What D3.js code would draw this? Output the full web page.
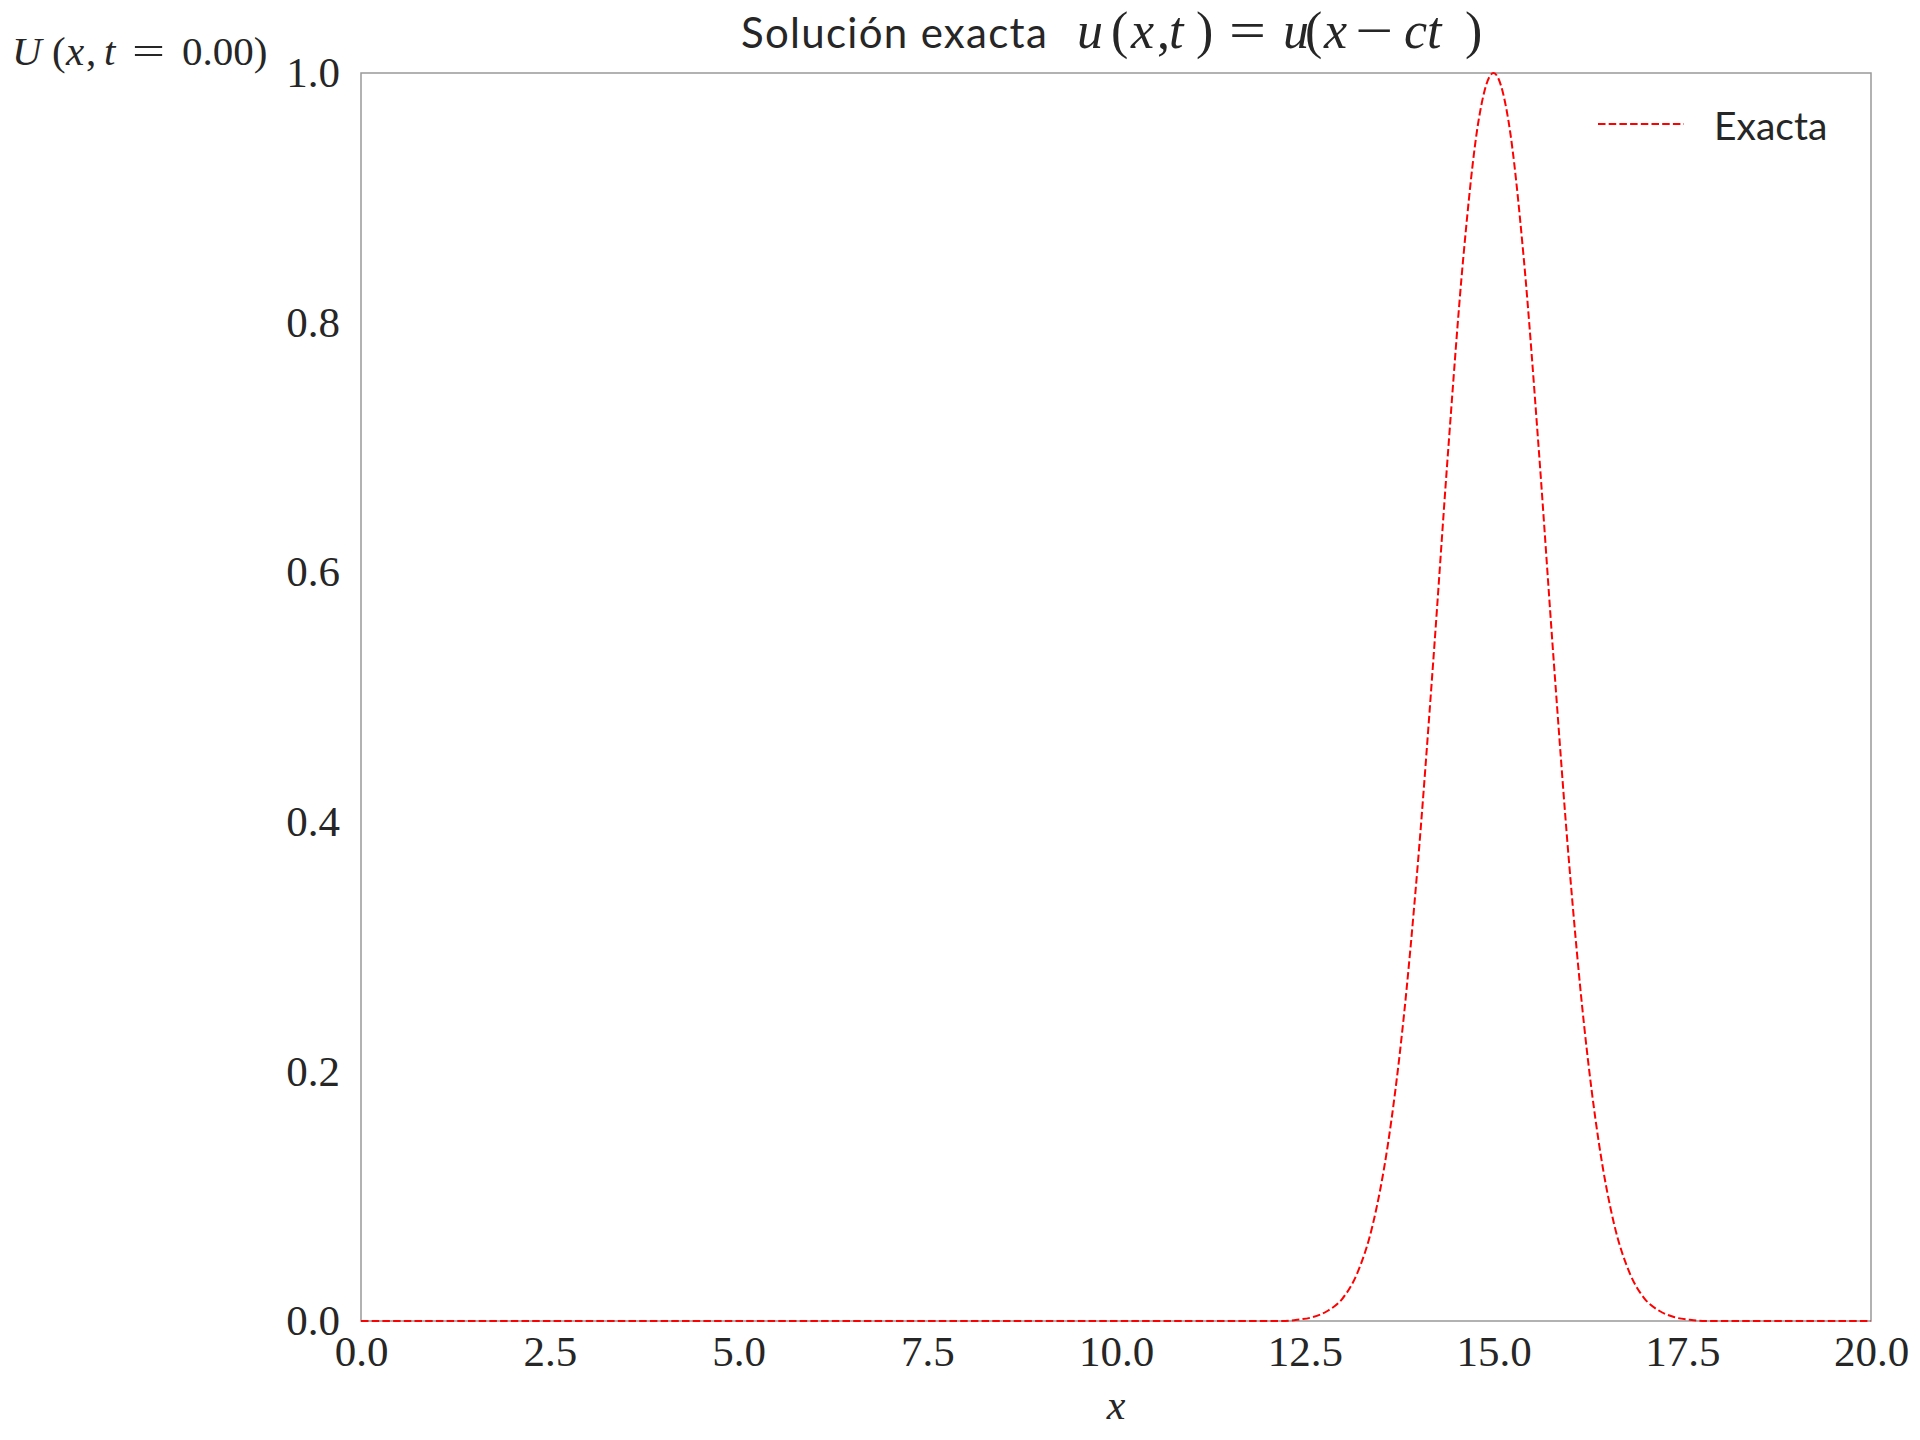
<!DOCTYPE html>
<html><head><meta charset="utf-8">
<script src="https://cdn.jsdelivr.net/npm/d3@7"></script>
<style>body{margin:0;background:#fff}</style>
</head><body>
<script>
// Data
const xValues = [0, 12.0, 12.2, 12.4, 12.6, 12.8, 13.0, 13.2, 13.4, 13.6, 13.8, 14.0, 14.2, 14.4, 14.6, 14.8, 15.0,
  15.2, 15.4, 15.6, 15.8, 16.0, 16.2, 16.4, 16.6, 16.8, 17.0, 17.2, 17.4, 17.6, 17.8, 18.0, 20];
const uValues = [0, 0.000, 0.000, 0.001, 0.003, 0.008, 0.018, 0.039, 0.077, 0.141, 0.237, 0.368, 0.527, 0.698, 0.852, 0.961, 1.000,
  0.961, 0.852, 0.698, 0.527, 0.368, 0.237, 0.141, 0.077, 0.039, 0.018, 0.008, 0.003, 0.001, 0.000, 0.000, 0];
const xTicks = [0, 2.5, 5, 7.5, 10, 12.5, 15, 17.5, 20];
const yTicks = [0, 0.2, 0.4, 0.6, 0.8, 1.0];
const seriesName = "Exacta";

const W = 1920, H = 1440;
const L = 361, R = 1871, T = 73, B = 1321;
const serif = "'Liberation Serif','Times New Roman',serif";
const sans = "Lato,'Open Sans',sans-serif";
const textColor = "#262626";

const svg = d3.select("body").append("svg").attr("width", W).attr("height", H);
const x = d3.scaleLinear().domain([0, 20]).range([L, R]);
const y = d3.scaleLinear().domain([0, 1]).range([B, T]);

// frame
svg.append("rect").attr("x", L).attr("y", T).attr("width", R - L).attr("height", B - T)
  .attr("fill", "none").attr("stroke", "#999").attr("stroke-width", 1.5);

// axes
const xAxis = svg.append("g").attr("transform", `translate(0,${B})`)
  .call(d3.axisBottom(x).tickValues(xTicks).tickFormat(d3.format(".1f")).tickSize(0).tickPadding(14.5));
const yAxis = svg.append("g").attr("transform", `translate(${L},0)`)
  .call(d3.axisLeft(y).tickValues(yTicks).tickFormat(d3.format(".1f")).tickSize(0).tickPadding(21));
[xAxis, yAxis].forEach(a => {
  a.select(".domain").remove();
  a.selectAll("text").attr("font-family", serif).attr("font-size", 43).attr("fill", textColor);
});

// line
const line = d3.line().x((d, i) => x(xValues[i])).y(d => y(d)).curve(d3.curveMonotoneX);
svg.append("path").datum(uValues).attr("d", line).attr("fill", "none")
  .attr("stroke", "#ff0000").attr("stroke-width", 2).attr("stroke-dasharray", "7.5,3.2");

// helper for math glyph runs: [text, italic, x, stretchedWidth]
function mathRun(parts, baseY, size) {
  const g = svg.append("g").attr("fill", textColor).attr("font-family", serif).attr("font-size", size);
  parts.forEach(([s, it, px, w]) => {
    const t = g.append("text").attr("x", px).attr("y", baseY)
      .attr("font-style", it ? "italic" : "normal").text(s);
    if (w) t.attr("textLength", w).attr("lengthAdjust", "spacingAndGlyphs");
  });
}

// title
svg.append("text").attr("x", 741).attr("y", 48).attr("font-family", sans).attr("font-size", 42)
  .attr("letter-spacing", 1.3).attr("fill", textColor).text("Solución exacta");
mathRun([["u", 1, 1077], ["(", 0, 1111], ["x", 1, 1131], [",", 0, 1157], ["t", 1, 1169], [")", 0, 1196],
  ["=", 0, 1229, 37], ["u", 1, 1283], ["(", 0, 1305], ["x", 1, 1324], ["−", 0, 1355, 38], ["c", 1, 1404],
  ["t", 1, 1427], [")", 0, 1465]], 48, 52);

// y label
mathRun([["U", 1, 12], ["(", 0, 52], ["x", 1, 66], [",", 0, 86], ["t", 1, 104], ["=", 0, 132, 33], ["0.00)", 0, 182]], 65, 41);

// x label
svg.append("text").attr("x", (L + R) / 2).attr("y", 1419).attr("text-anchor", "middle")
  .attr("font-family", serif).attr("font-style", "italic").attr("font-size", 42).attr("fill", textColor).text("x");

// legend
svg.append("line").attr("x1", 1598).attr("x2", 1684).attr("y1", 124).attr("y2", 124)
  .attr("stroke", "#ff0000").attr("stroke-width", 2).attr("stroke-dasharray", "7.5,3.2");
svg.append("text").attr("x", 1714).attr("y", 140).attr("font-family", sans).attr("font-size", 39)
  .attr("fill", textColor).text(seriesName);
</script>
</body></html>
